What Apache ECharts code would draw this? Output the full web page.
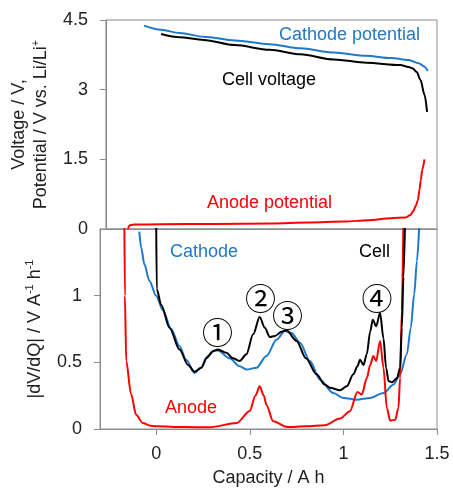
<!DOCTYPE html>
<html><head><meta charset="utf-8">
<script src="https://cdn.jsdelivr.net/npm/echarts@6/dist/echarts.min.js"></script>
<style>html,body{margin:0;padding:0;background:#fff}#c{width:453px;height:488px}</style>
</head><body><div id="c"></div>
<script>
// ---- Top panel: potentials (V) vs capacity (A h)
const cathodePotCap = [-0.093, 0, 0.1, 0.232, 0.4, 0.59, 0.757, 0.94, 1.116, 1.25, 1.346, 1.40, 1.43, 1.45];
const cathodePotV   = [4.38, 4.29, 4.22, 4.14, 4.06, 3.98, 3.89, 3.80, 3.73, 3.68, 3.64, 3.57, 3.50, 3.40];
const cellVoltCap = [0, 0.1, 0.232, 0.4, 0.59, 0.757, 0.94, 1.116, 1.30, 1.346, 1.366, 1.39, 1.41, 1.433, 1.446];
const cellVoltV   = [4.20, 4.13, 4.07, 3.96, 3.86, 3.76, 3.65, 3.58, 3.53, 3.49, 3.46, 3.38, 3.21, 2.88, 2.52];
const anodePotCap = [-0.179, -0.177, -0.17, -0.15, 0, 0.3, 0.6, 0.8, 1.0, 1.125, 1.25, 1.33, 1.355, 1.37, 1.385, 1.396, 1.405, 1.412, 1.42, 1.432];
const anodePotV   = [0, 0.05, 0.08, 0.095, 0.10, 0.11, 0.12, 0.14, 0.16, 0.19, 0.23, 0.25, 0.30, 0.38, 0.50, 0.62, 0.85, 1.05, 1.28, 1.50];

// ---- Bottom panel: |dV/dQ| (V A^-1 h^-1) vs capacity (A h)
const cathodeDvCap = [-0.09, -0.08, -0.063, -0.036, 0, 0.036, 0.08, 0.125, 0.16, 0.205, 0.241, 0.276, 0.312, 0.33, 0.393, 0.446, 0.482, 0.536, 0.589, 0.643, 0.687, 0.723, 0.768, 0.821, 0.875, 0.946, 1.0, 1.071, 1.143, 1.214, 1.268, 1.303, 1.339, 1.36, 1.378, 1.393, 1.405];
const cathodeDv    = [1.48, 1.36, 1.235, 1.11, 1.0, 0.89, 0.75, 0.62, 0.52, 0.42, 0.46, 0.547, 0.588, 0.588, 0.53, 0.47, 0.446, 0.46, 0.547, 0.67, 0.735, 0.72, 0.647, 0.51, 0.37, 0.27, 0.233, 0.22, 0.233, 0.27, 0.333, 0.41, 0.56, 0.76, 1.01, 1.26, 1.52];
const anodeDvCap = [-0.17, -0.167, -0.16, -0.134, -0.107, -0.072, -0.03, 0, 0.15, 0.286, 0.43, 0.5, 0.53, 0.553, 0.575, 0.589, 0.625, 0.70, 0.80, 0.90, 0.982, 1.035, 1.075, 1.098, 1.125, 1.143, 1.16, 1.175, 1.196, 1.214, 1.232, 1.25, 1.277, 1.294, 1.303, 1.312, 1.321];
const anodeDv    = [1.6, 1.0, 0.51, 0.26, 0.107, 0.045, 0.025, 0.02, 0.015, 0.013, 0.045, 0.135, 0.25, 0.32, 0.25, 0.18, 0.058, 0.015, 0.02, 0.028, 0.078, 0.133, 0.278, 0.258, 0.38, 0.48, 0.547, 0.51, 0.66, 0.46, 0.158, 0.063, 0.07, 0.158, 0.38, 0.89, 1.6];
const cellDvCap = [0, 0.003, 0.027, 0.071, 0.125, 0.17, 0.205, 0.241, 0.268, 0.303, 0.33, 0.375, 0.41, 0.446, 0.482, 0.518, 0.553, 0.58, 0.607, 0.634, 0.67, 0.696, 0.75, 0.80, 0.857, 0.90, 0.928, 0.982, 1.018, 1.053, 1.075, 1.089, 1.107, 1.125, 1.143, 1.157, 1.175, 1.196, 1.214, 1.228, 1.241, 1.259, 1.286, 1.303, 1.312, 1.321, 1.33];
const cellDv    = [1.6, 1.05, 0.93, 0.76, 0.596, 0.48, 0.43, 0.46, 0.53, 0.584, 0.596, 0.571, 0.53, 0.51, 0.56, 0.71, 0.84, 0.76, 0.69, 0.697, 0.73, 0.74, 0.66, 0.53, 0.41, 0.333, 0.31, 0.29, 0.32, 0.41, 0.47, 0.52, 0.48, 0.56, 0.73, 0.82, 0.77, 0.87, 0.68, 0.46, 0.36, 0.35, 0.38, 0.46, 0.76, 1.14, 1.6];

// ---- Axis ticks
const capTicks = [0, 0.5, 1, 1.5];
const voltTicks = [0, 1.5, 3, 4.5];
const dvdqTicks = [0, 0.5, 1, 1.5];

const BLUE = '#1f78c8', RED = '#ff0000', BLACK = '#000000', GRAY = '#8c8c8c';
const FONT = 'Liberation Sans';
const zip = (a, b) => a.map((v, i) => [v, b[i]]);

const chart = echarts.init(document.getElementById('c'), null, {renderer: 'canvas'});
const supRich = {
  a: {fontSize: 18, fontFamily: FONT, color: '#222', lineHeight: 22},
  s: {fontSize: 11, fontFamily: FONT, color: '#222', verticalAlign: 'top', lineHeight: 22, padding: [0, 0, 8, 0]}
};
const axisCommon = {
  axisLine: {show: true, onZero: false, lineStyle: {color: GRAY, width: 1}},
  splitLine: {show: false},
  axisLabel: {fontSize: 18, fontFamily: FONT, color: '#222', margin: 18},
  axisTick: {show: true, inside: false, length: 6, lineStyle: {color: GRAY}}
};
const line = (name, xi, data, color, z) => ({
  name, type: 'line', xAxisIndex: xi, yAxisIndex: xi, data, showSymbol: false,
  smooth: 0.3, smoothMonotone: 'x', clip: true, z,
  lineStyle: {color, width: 2}
});
const circ = (t, x, y) => ({type: 'text', x, y, style: {text: t, fill: BLACK, font: '31px "Noto Sans CJK JP"', textAlign: 'center', textVerticalAlign: 'middle'}});

chart.setOption({
  animation: false,
  backgroundColor: '#fff',
  grid: [
    {left: 100, top: 20, width: 337, height: 209, show: true, borderColor: GRAY, borderWidth: 1},
    {left: 100, top: 229, width: 337, height: 200, show: true, borderColor: GRAY, borderWidth: 1}
  ],
  xAxis: [
    Object.assign({}, axisCommon, {gridIndex: 0, type: 'value', min: -0.3, max: 1.5,
      axisLabel: {show: false}, axisTick: {show: false}}),
    Object.assign({}, axisCommon, {gridIndex: 1, type: 'value', min: -0.3, max: 1.5,
      axisLabel: Object.assign({}, axisCommon.axisLabel, {margin: 16, customValues: capTicks}),
      axisTick: Object.assign({}, axisCommon.axisTick, {customValues: capTicks}),
      name: 'Capacity / A h', nameLocation: 'middle', nameGap: 40,
      nameTextStyle: {fontSize: 18, fontFamily: FONT, color: '#222'}})
  ],
  yAxis: [
    Object.assign({}, axisCommon, {gridIndex: 0, type: 'value', min: voltTicks[0], max: voltTicks[voltTicks.length - 1], interval: 1.5,
      name: '{a|Voltage / V,}\n{a|Potential / V vs. Li/Li}{s|+}', nameLocation: 'middle', nameRotate: 90, nameGap: 50,
      nameTextStyle: {rich: supRich, lineHeight: 22}}),
    Object.assign({}, axisCommon, {gridIndex: 1, type: 'value', min: dvdqTicks[0], max: dvdqTicks[dvdqTicks.length - 1], interval: 0.5,
      axisLabel: Object.assign({}, axisCommon.axisLabel, {showMaxLabel: false}),
      name: '{a||dV/dQ| / V A}{s|-1}{a| h}{s|-1}', nameLocation: 'middle', nameRotate: 90, nameGap: 50,
      nameTextStyle: {rich: supRich, lineHeight: 22}})
  ],
  series: [
    line('Cathode potential', 0, zip(cathodePotCap, cathodePotV), BLUE, 2),
    line('Anode potential', 0, zip(anodePotCap, anodePotV), RED, 3),
    line('Cell voltage', 0, zip(cellVoltCap, cellVoltV), BLACK, 4),
    line('Cathode', 1, zip(cathodeDvCap, cathodeDv), BLUE, 2),
    line('Anode', 1, zip(anodeDvCap, anodeDv), RED, 3),
    line('Cell', 1, zip(cellDvCap, cellDv), BLACK, 4)
  ],
  graphic: [
    {type: 'text', x: 420, y: 35, style: {text: 'Cathode potential', fill: BLUE, font: '18px ' + FONT, textAlign: 'right', textVerticalAlign: 'middle'}},
    {type: 'text', x: 222, y: 80, style: {text: 'Cell voltage', fill: BLACK, font: '18px ' + FONT, textAlign: 'left', textVerticalAlign: 'middle'}},
    {type: 'text', x: 207, y: 203, style: {text: 'Anode potential', fill: RED, font: '18px ' + FONT, textAlign: 'left', textVerticalAlign: 'middle'}},
    {type: 'text', x: 170, y: 252, style: {text: 'Cathode', fill: BLUE, font: '18px ' + FONT, textAlign: 'left', textVerticalAlign: 'middle'}},
    {type: 'text', x: 390, y: 252, style: {text: 'Cell', fill: BLACK, font: '18px ' + FONT, textAlign: 'right', textVerticalAlign: 'middle'}},
    {type: 'text', x: 165, y: 408, style: {text: 'Anode', fill: RED, font: '18px ' + FONT, textAlign: 'left', textVerticalAlign: 'middle'}},
    circ('①', 217.5, 332), circ('②', 260.5, 298), circ('③', 287.5, 315), circ('④', 377, 298)
  ]
});
</script></body></html>
